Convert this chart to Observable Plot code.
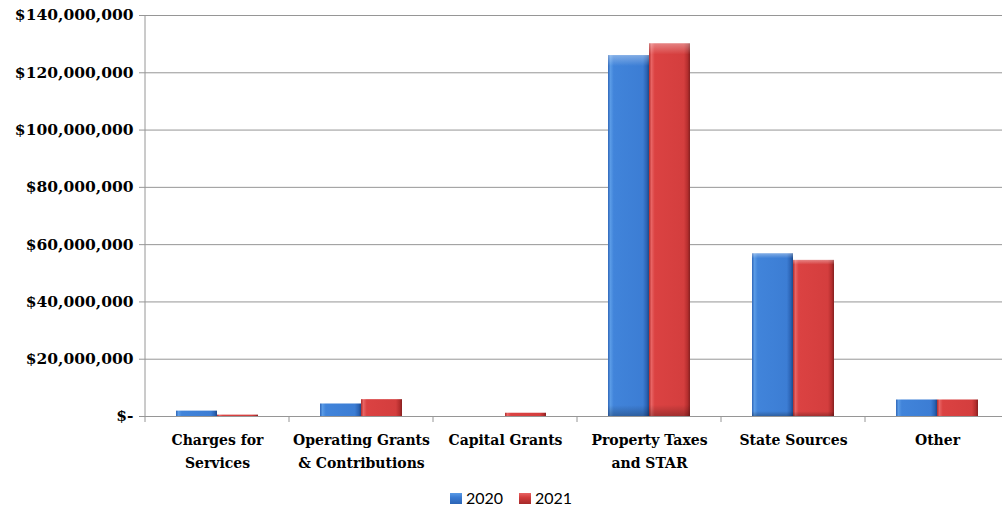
<!DOCTYPE html>
<html><head><meta charset="utf-8">
<script src="https://cdn.jsdelivr.net/npm/d3@7"></script>
<script src="https://cdn.jsdelivr.net/npm/@observablehq/plot@0.6"></script>
<style>
body{margin:0;background:#fff;width:1002px;height:510px;overflow:hidden}
#chart{width:1002px;height:478px;overflow:hidden}
#chart svg{max-width:none !important;width:1010px !important;height:478px !important}
#legend{display:flex;justify-content:center;align-items:center;font-family:Lato,"Open Sans",sans-serif;font-size:16px;color:#000;height:30px;margin-top:4px;padding-left:20px;width:982px}
.item{display:flex;align-items:center;margin:0 8px}
.sw{width:12px;height:11px;margin-right:4px;margin-top:2px}
</style></head><body>
<div id="chart"></div>
<div id="legend"></div>
<script>
const categories = ["Charges for\nServices","Operating Grants\n& Contributions","Capital Grants","Property Taxes\nand STAR","State Sources","Other"];
const years = ["2020","2021"];
const values2020 = [1.9e6, 4.4e6, 0, 126.0e6, 56.8e6, 5.8e6];
const values2021 = [0.5e6, 5.9e6, 1.15e6, 130.1e6, 54.5e6, 5.8e6];
const yTicks = [0, 20e6, 40e6, 60e6, 80e6, 100e6, 120e6, 140e6];

const rows = categories.flatMap((c, i) => [
  {category: c, year: years[0], value: values2020[i]},
  {category: c, year: years[1], value: values2021[i]}
]);
const fmt = d => d === 0 ? "$-" : "$" + d3.format(",")(d);
const grey = "#969696";

const chart = Plot.plot({
  width: 1010, height: 478,
  marginLeft: 143, marginRight: 0, marginTop: 15, marginBottom: 62,
  style: {fontFamily: "'DejaVu Serif', serif", background: "white", color: "black"},
  fx: {domain: categories, padding: 0, label: null},
  x: {domain: years, paddingInner: 0, paddingOuter: 0.72, axis: null},
  y: {domain: [0, 140e6], label: null},
  marks: [
    Plot.gridY(yTicks, {stroke: grey, strokeOpacity: 1}),
    Plot.axisY(yTicks, {tickFormat: fmt, tickSize: 6, tickPadding: 6, fontWeight: "bold", fontSize: 15.5, stroke: grey, fill: "black", label: null}),
    Plot.axisFx({anchor: "bottom", tickSize: 0, tickPadding: 12, fontWeight: "bold", fontSize: 14, lineHeight: 1.65, fill: "black", label: null}),
    Plot.barY(rows.filter(d => d.year === years[0]), {fx: "category", x: "year", y: "value", fill: "url(#g2020)"}),
    Plot.barY(rows.filter(d => d.year === years[1]), {fx: "category", x: "year", y: "value", fill: "url(#g2021)"}),
    Plot.barY(rows, {fx: "category", x: "year", y: "value", fill: "url(#gtop)"}),
    Plot.ruleY([0], {stroke: grey})
  ]
});

const svg = d3.select(chart);
const defs = svg.insert("defs", ":first-child");
function hgrad(id, stops) {
  const g = defs.append("linearGradient").attr("id", id).attr("x1", 0).attr("x2", 1).attr("y1", 0).attr("y2", 0);
  stops.forEach(([o, c]) => g.append("stop").attr("offset", o).attr("stop-color", c));
}
hgrad("g2020", [[0, "#2f66b8"], [0.06, "#5a9be6"], [0.14, "#4184da"], [0.85, "#3c7dd4"], [0.94, "#2c64b5"], [1, "#1d4a8a"]]);
hgrad("g2021", [[0, "#b02c2c"], [0.06, "#e86464"], [0.14, "#db4242"], [0.85, "#d43e3e"], [0.94, "#b52e2e"], [1, "#852020"]]);
const vt = defs.append("linearGradient").attr("id", "gtop").attr("x1", 0).attr("x2", 0).attr("y1", 0).attr("y2", 1);
[[0, "white", 0.35], [0.03, "white", 0.0], [0.97, "black", 0], [1, "black", 0.25]].forEach(([o, c, a]) =>
  vt.append("stop").attr("offset", o).attr("stop-color", c).attr("stop-opacity", a));

// category boundary ticks and y axis line, positioned through the plot's scales
const fx = chart.scale("fx"), y = chart.scale("y");
const y0 = y.apply(0), yTop = y.apply(140e6);
const edges = categories.map(c => fx.apply(c));
edges.push(edges[edges.length - 1] + fx.bandwidth);
svg.append("g").attr("stroke", grey).selectAll("line").data(edges).join("line")
  .attr("x1", d => d).attr("x2", d => d).attr("y1", y0).attr("y2", y0 + 6);
svg.append("line").attr("stroke", grey).attr("x1", edges[0]).attr("x2", edges[0]).attr("y1", yTop).attr("y2", y0);

document.getElementById("chart").append(chart);

const legendColors = {"2020": "linear-gradient(#5a9be6,#3a7bd2 40%,#2c64b5)", "2021": "linear-gradient(#e86464,#d23c3c 40%,#a52a2a)"};
const legend = document.getElementById("legend");
years.forEach(yr => {
  const it = document.createElement("div"); it.className = "item";
  const sw = document.createElement("div"); sw.className = "sw"; sw.style.background = legendColors[yr];
  const tx = document.createElement("span"); tx.textContent = yr;
  it.append(sw, tx); legend.append(it);
});
</script>
</body></html>
